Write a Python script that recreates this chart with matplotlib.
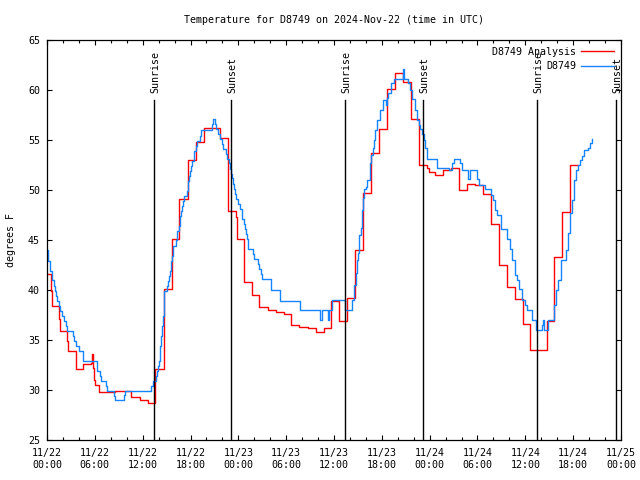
import matplotlib
matplotlib.use("Agg")
import matplotlib.pyplot as plt
from matplotlib.ticker import FixedLocator, MultipleLocator

# hours since 2024-11-22 00:00 UTC, temperature in degrees F
analysis_hours = [0.00, 0.50, 0.63, 1.51, 1.63, 2.51, 2.63, 3.64, 4.52, 5.52, 5.65, 5.77,
                  5.90, 6.02, 6.52, 8.53, 10.54, 11.67, 12.67, 13.55, 14.68, 15.68, 16.56,
                  17.69, 18.69, 19.70, 21.71, 22.71, 23.71, 23.84, 24.72, 25.72, 26.60,
                  27.73, 28.73, 29.74, 30.61, 31.62, 32.75, 33.75, 34.76, 35.63, 36.64,
                  37.64, 38.65, 39.65, 40.65, 41.66, 42.66, 43.66, 44.67, 45.67, 46.68,
                  47.68, 47.93, 48.68, 49.69, 50.69, 51.69, 52.70, 53.70, 54.71, 55.71,
                  56.71, 57.72, 58.72, 59.72, 60.60, 62.74, 63.61, 64.62, 65.62, 66.63]
analysis_temps = [41.6, 39.9, 38.4, 37.1, 35.9, 34.9, 33.9, 32.1, 32.6, 32.7, 33.6, 32.2,
                  31.0, 30.5, 29.8, 29.9, 29.3, 29.0, 28.7, 32.1, 40.1, 45.1, 49.1,
                  53.0, 54.8, 56.2, 55.2, 47.9, 47.3, 45.1, 40.8, 39.5, 38.3,
                  38.0, 37.8, 37.6, 36.5, 36.3, 36.2, 35.8, 36.2, 38.9, 36.9,
                  39.2, 44.0, 49.7, 53.7, 56.1, 60.1, 61.7, 60.8, 57.1, 52.5,
                  52.2, 51.8, 51.5, 52.0, 52.2, 50.0, 50.6, 50.5, 49.6, 46.6,
                  42.5, 40.3, 39.1, 36.6, 34.0, 36.9, 43.3, 47.8, 52.5, 52.5]

obs_hours = [0.00, 0.13, 0.38, 0.63, 0.88, 1.00, 1.13, 1.25, 1.51, 1.63, 1.88, 2.13, 2.38,
             2.51, 3.26, 3.39, 3.64, 4.02, 4.52, 6.27, 6.65, 6.78, 7.40, 7.53, 8.41, 8.53,
             9.66, 9.79, 13.05, 13.30, 13.68, 13.80, 13.93, 14.05, 14.18, 14.30, 14.43,
             14.55, 14.68, 15.06, 15.18, 15.31, 15.43, 15.56, 15.68, 15.81, 16.19, 16.31,
             16.56, 16.69, 16.81, 16.94, 17.06, 17.19, 17.57, 17.69, 17.82, 17.94, 18.07,
             18.19, 18.44, 18.70, 18.82, 19.20, 19.32, 20.70, 20.83, 21.08, 21.20, 21.46,
             21.71, 21.96, 22.08, 22.46, 22.58, 22.84, 22.96, 23.09, 23.21, 23.34, 23.46,
             23.59, 23.71, 23.96, 24.22, 24.47, 24.72, 24.84, 24.97, 25.09, 25.22, 25.85,
             25.97, 26.47, 26.60, 26.85, 26.98, 28.11, 29.23, 31.74, 34.25, 34.50, 35.26,
             35.38, 35.76, 37.39, 38.27, 38.52, 38.77, 38.90, 39.02, 39.15, 39.40, 39.52,
             39.65, 39.77, 40.03, 40.15, 40.53, 40.65, 40.90, 41.03, 41.15, 41.41, 41.78,
             42.16, 42.53, 42.66, 42.79, 43.16, 43.54, 44.67, 44.79, 45.30, 45.55, 45.80,
             46.17, 46.42, 46.68, 46.80, 47.05, 47.30, 47.43, 47.68, 48.93, 50.44, 50.82,
             51.07, 51.82, 52.07, 52.82, 53.07, 53.95, 54.20, 54.96, 55.71, 55.96, 56.21,
             56.46, 56.96, 57.72, 58.09, 58.34, 58.72, 58.97, 59.22, 59.60, 59.97, 60.23,
             60.85, 61.36, 62.11, 62.23, 62.36, 62.86, 63.61, 63.86, 64.12, 64.49, 65.12,
             65.37, 65.62, 65.87, 66.12, 66.37, 66.62, 66.88, 67.13, 67.38, 67.88, 68.13,
             68.38]
obs_temps = [44.0, 42.9, 41.9, 41.0, 40.4, 39.9, 39.4, 38.9, 38.4, 37.9, 37.4, 36.9, 36.4,
             35.9, 35.4, 34.9, 34.4, 33.9, 32.9, 31.9, 31.4, 30.9, 30.4, 29.9, 29.4, 29.0,
             29.5, 29.9, 30.4, 30.9, 31.4, 31.9, 32.4, 32.9, 34.4, 35.4, 36.4,
             37.4, 39.9, 40.4, 40.9, 41.4, 41.9, 42.9, 43.4, 44.4, 45.0, 45.9,
             46.4, 47.4, 47.9, 48.4, 48.9, 49.4, 49.9, 50.9, 51.4, 51.9, 52.4,
             52.9, 53.9, 54.4, 54.9, 55.4, 56.0, 56.6, 57.1, 56.6, 56.1, 55.6,
             55.1, 54.6, 54.1, 53.6, 53.1, 52.7, 52.1, 51.6, 51.2, 50.6, 50.1,
             49.6, 49.1, 48.6, 48.1, 47.1, 46.6, 46.1, 45.6, 45.1, 44.1, 43.6,
             43.1, 42.6, 42.1, 41.6, 41.1, 40.0, 38.9, 38.0, 37.0, 38.0, 37.0,
             38.0, 39.0, 38.0, 39.0, 40.5, 41.7, 43.0, 43.7, 45.5, 46.2, 48.0,
             49.2, 50.1, 50.3, 51.0, 52.7, 53.5, 54.2, 55.0, 56.0, 57.0, 58.0,
             59.0, 58.5, 59.2, 59.7, 60.7, 61.1, 62.1, 61.1, 60.7, 60.0, 59.1,
             58.0, 57.0, 56.5, 56.1, 55.6, 55.0, 54.2, 53.1, 52.2, 52.0, 52.7,
             53.1, 52.7, 52.0, 51.1, 52.0, 51.1, 50.5, 50.1, 49.5, 49.0, 48.0,
             47.5, 46.1, 45.1, 44.1, 43.0, 41.5, 41.0, 40.1, 39.0, 38.5, 38.0,
             37.0, 36.0, 36.5, 37.0, 36.0, 37.0, 38.5, 40.0, 41.0, 43.0, 44.0,
             45.7, 47.7, 49.0, 51.0, 52.0, 52.5, 53.0, 53.4, 54.0, 54.2, 54.7,
             55.1]

sunrise_hours = [13.46, 37.43, 61.52]
sunset_hours = [23.09, 47.21, 71.36]

tick_hours = [0, 6, 12, 18, 24, 30, 36, 42, 48, 54, 60, 66, 72]
tick_labels = ["11/22\n00:00", "11/22\n06:00", "11/22\n12:00", "11/22\n18:00",
               "11/23\n00:00", "11/23\n06:00", "11/23\n12:00", "11/23\n18:00",
               "11/24\n00:00", "11/24\n06:00", "11/24\n12:00", "11/24\n18:00",
               "11/25\n00:00"]

FONT = "DejaVu Sans Mono"
FS = 7.2
plt.rcParams["font.family"] = FONT

fig = plt.figure(figsize=(6.4, 4.8), dpi=100)
ax = fig.add_axes([47 / 640, 40 / 480, 574 / 640, 400 / 480])

ax.plot(analysis_hours, analysis_temps, drawstyle="steps-post", color="#FF0000",
        lw=1.0, label="D8749 Analysis")
ax.plot(obs_hours, obs_temps, drawstyle="steps-post", color="#1683FF",
        lw=1.0, label="D8749")

for h in sunrise_hours + sunset_hours:
    ax.plot([h, h], [25, 59], color="black", lw=1.0)
for h in sunrise_hours:
    ax.text(h + 0.15, 59.7, "Sunrise", rotation=90, ha="center", va="bottom", fontsize=FS)
for h in sunset_hours:
    ax.text(h + 0.15, 59.7, "Sunset", rotation=90, ha="center", va="bottom", fontsize=FS)

ax.set_xlim(0, 72)
ax.set_ylim(25, 65)
ax.xaxis.set_major_locator(FixedLocator(tick_hours))
ax.xaxis.set_minor_locator(MultipleLocator(2))
ax.set_xticklabels(tick_labels, fontsize=FS)
ax.yaxis.set_major_locator(MultipleLocator(5))
ax.tick_params(axis="both", which="major", direction="in", length=3.6, width=0.8,
               top=True, right=True, labelsize=FS)
ax.tick_params(axis="x", which="minor", direction="in", length=2.0, width=0.8,
               top=True)
ax.tick_params(axis="x", which="major", pad=6)
ax.tick_params(axis="y", which="major", pad=5)
for spine in ax.spines.values():
    spine.set_linewidth(0.9)

ax.set_ylabel("degrees F", fontsize=FS, labelpad=9)
ax.set_title("Temperature for D8749 on 2024-Nov-22 (time in UTC)", fontsize=FS, pad=12)

ax.legend(loc="upper right", frameon=False, markerfirst=False, fontsize=FS,
          handlelength=3.3, labelspacing=0.45, borderaxespad=0.3, handletextpad=0.5)

fig.savefig("out.png", dpi=100)
